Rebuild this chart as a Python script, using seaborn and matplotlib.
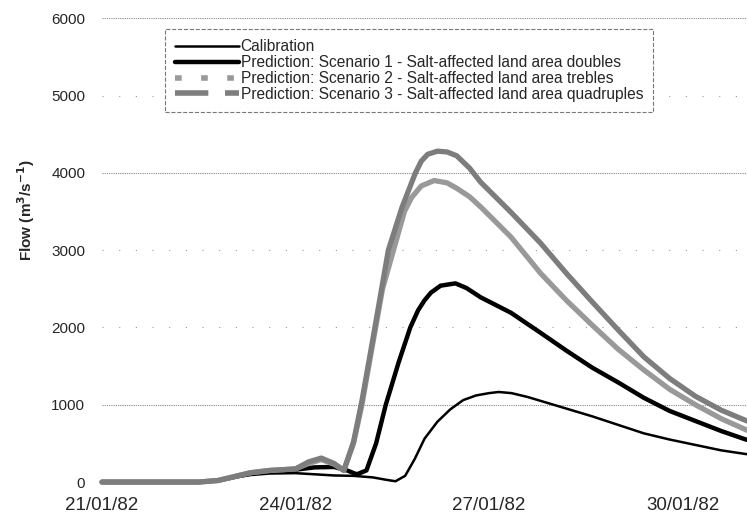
import matplotlib
matplotlib.use('Agg')
import matplotlib.pyplot as plt
from matplotlib.lines import Line2D
import seaborn as sns

# days after 21/01/82 00:00
cal_days = [0, 1.5, 1.8, 2.0, 2.3, 2.6, 3.0, 3.3, 3.6, 3.9, 4.2, 4.4, 4.55, 4.7, 4.85, 5.0, 5.2, 5.4,
            5.6, 5.8, 6.0, 6.15, 6.35, 6.6, 6.8, 7.2, 7.6, 8.0, 8.4, 8.8, 9.2, 9.6, 10.0]
cal_flow = [0, 0, 20, 50, 90, 110, 115, 100, 85, 80, 60, 30, 10, 80, 300, 560, 780, 940,
            1060, 1120, 1150, 1165, 1150, 1100, 1050, 950, 850, 740, 630, 550, 480, 410, 360]

s1_days = [0, 1.5, 1.8, 2.0, 2.3, 2.6, 3.0, 3.3, 3.6, 3.8, 3.95, 4.1, 4.25, 4.4, 4.6, 4.78, 4.9, 5.0,
           5.1, 5.25, 5.48, 5.65, 5.87, 6.34, 6.8, 7.2, 7.6, 8.0, 8.4, 8.8, 9.2, 9.6, 10.0]
s1_flow = [0, 0, 20, 55, 110, 140, 160, 190, 195, 150, 100, 150, 500, 1000, 1550, 2000, 2220, 2350,
           2450, 2540, 2570, 2510, 2390, 2190, 1930, 1700, 1480, 1290, 1090, 920, 790, 660, 545]

s2_days = [0, 1.5, 1.8, 2.0, 2.3, 2.6, 3.0, 3.2, 3.4, 3.6, 3.75, 3.9, 4.03, 4.2, 4.35, 4.52, 4.69, 4.8,
           4.95, 5.15, 5.35, 5.5, 5.7, 5.87, 6.34, 6.8, 7.2, 7.6, 8.0, 8.4, 8.8, 9.2, 9.6, 10.0]
s2_flow = [0, 0, 20, 60, 120, 150, 170, 240, 290, 230, 150, 500, 1000, 1800, 2500, 3000, 3500, 3680,
           3830, 3900, 3870, 3800, 3690, 3560, 3170, 2700, 2350, 2030, 1720, 1450, 1200, 1000, 820, 670]

s3_days = [0, 1.5, 1.8, 2.0, 2.3, 2.6, 3.0, 3.2, 3.4, 3.6, 3.75, 3.9, 4.03, 4.2, 4.44, 4.65, 4.86, 4.95,
           5.05, 5.2, 5.35, 5.5, 5.7, 5.87, 6.34, 6.8, 7.2, 7.6, 8.0, 8.4, 8.8, 9.2, 9.6, 10.0]
s3_flow = [0, 0, 20, 60, 120, 150, 170, 260, 310, 240, 150, 520, 1050, 1850, 3000, 3550, 4000, 4150,
           4240, 4280, 4270, 4220, 4060, 3880, 3490, 3090, 2700, 2330, 1970, 1620, 1340, 1110, 930, 790]

tick_days = [0, 3, 6, 9]
tick_labels = ['21/01/82', '24/01/82', '27/01/82', '30/01/82']
y_ticks = [0, 1000, 2000, 3000, 4000, 5000, 6000]

legend_labels = ['Calibration',
                 'Prediction: Scenario 1 - Salt-affected land area doubles',
                 'Prediction: Scenario 2 - Salt-affected land area trebles',
                 'Prediction: Scenario 3 - Salt-affected land area quadruples']

sns.set_style('white')
plt.rcParams['font.family'] = ['Liberation Sans', 'DejaVu Sans']

fig = plt.figure(figsize=(7.47, 5.2), dpi=100)
ax = fig.add_axes([0.1365, 0.073, 0.8635, 0.892])

# gridlines: some dense dotted, some barely visible
for v in y_ticks[1:]:
    if v in (1000, 4000, 6000):
        ax.axhline(v, color='#888888', linestyle=(0, (1, 1)), linewidth=0.8, zorder=0)
    else:
        ax.axhline(v, color='#999999', linestyle=(0, (1, 14)), linewidth=0.8, zorder=0)

sns.lineplot(x=cal_days, y=cal_flow, ax=ax, color='black', linewidth=1.8, clip_on=False)
sns.lineplot(x=s1_days, y=s1_flow, ax=ax, color='black', linewidth=3.2, clip_on=False)
sns.lineplot(x=s2_days, y=s2_flow, ax=ax, color='#999999', linewidth=3.8, clip_on=False)
sns.lineplot(x=s3_days, y=s3_flow, ax=ax, color='#7d7d7d', linewidth=3.8, clip_on=False)

ax.set_xlim(0, 10)
ax.set_ylim(0, 6000)
ax.set_yticks(y_ticks)
ax.set_xticks(tick_days)
ax.set_xticklabels(tick_labels, fontsize=13.5)
ax.tick_params(axis='y', labelsize=11, length=0, pad=12)
ax.tick_params(axis='x', length=0, pad=11)
for s in ax.spines.values():
    s.set_visible(False)

ax.set_ylabel(r'Flow (m$^{\mathbf{3}}$/s$^{\mathbf{-1}}$)', fontsize=11, fontweight='bold')
ax.yaxis.set_label_coords(-0.1, 0.586)

handles = [Line2D([], [], color='black', linewidth=1.8),
           Line2D([], [], color='black', linewidth=3.2),
           Line2D([], [], color='#999999', linewidth=4, linestyle=(0, (1.2, 3.5))),
           Line2D([], [], color='#7d7d7d', linewidth=4, linestyle=(0, (6, 3, 1.5, 0)))]
leg = ax.legend(handles, legend_labels, loc='upper left', bbox_to_anchor=(0.098, 0.976),
                borderaxespad=0, fontsize=11.2, handlelength=4.1, handletextpad=0.1,
                labelspacing=0.05, fancybox=False, framealpha=1, borderpad=0.65)
leg.get_frame().set_edgecolor('#777777')
leg.get_frame().set_linestyle('--')
leg.get_frame().set_linewidth(0.8)

fig.savefig('out.png', dpi=100)
